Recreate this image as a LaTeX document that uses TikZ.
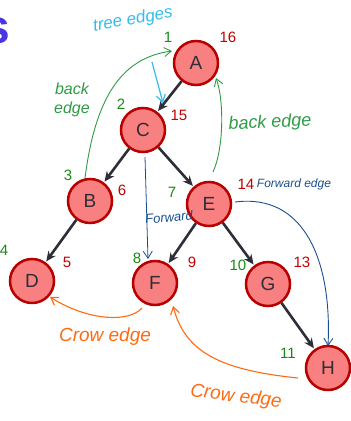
\documentclass[tikz,border=0pt]{standalone}
\usepackage{fontspec}
\setmainfont{Liberation Sans}
\usetikzlibrary{arrows.meta}
\definecolor{nodefill}{HTML}{F88080}
\definecolor{nodeborder}{HTML}{B80000}
\definecolor{treeedge}{HTML}{2E2E38}
\definecolor{dfsgreen}{HTML}{178A17}
\definecolor{dfsred}{HTML}{C40000}
\definecolor{handgreen}{HTML}{2E9B45}
\definecolor{handblue}{HTML}{1A4F8F}
\definecolor{handlight}{HTML}{33BBEE}
\definecolor{handorange}{HTML}{FF6A10}
\definecolor{titleblue}{HTML}{4A36E0}
\tikzset{
  vertex/.style={circle, draw=nodeborder, fill=nodefill, line width=2.5pt,
    minimum size=44pt, inner sep=0pt, font=\fontsize{19}{19}\selectfont, text=treeedge},
  tree/.style={draw=treeedge, line width=2.6pt, -{Stealth[length=10pt,width=9pt]}, shorten >=1pt},
  dnum/.style={text=dfsgreen, font=\fontsize{15}{15}\selectfont, inner sep=0pt},
  fnum/.style={text=dfsred, font=\fontsize{15}{15}\selectfont, inner sep=0pt},
  hand/.style={font=\fontsize{15}{15}\selectfont\itshape, inner sep=0pt},
  handarrow/.style={line width=0.9pt, -{Straight Barb[length=7pt,width=9pt]}},
}
\begin{document}
\begin{tikzpicture}[x=1pt,y=-1pt]
\useasboundingbox (0,0) rectangle (351,421);
% title fragment
\node[anchor=east, inner sep=0pt, text=titleblue, font=\fontsize{48}{48}\selectfont\bfseries] (title) at (10,31) {s};
% vertices
\node[vertex] (A) at (196,63) {A};
\node[vertex] (C) at (143,130) {C};
\node[vertex] (B) at (90,201) {B};
\node[vertex] (E) at (209,204) {E};
\node[vertex] (D) at (32,281) {D};
\node[vertex] (F) at (155,283) {F};
\node[vertex] (G) at (268,284) {G};
\node[vertex] (H) at (328,368) {H};
% tree edges
\draw[tree] (A) -- (C);
\draw[tree] (C) -- (B);
\draw[tree] (C) -- (E);
\draw[tree] (B) -- (D);
\draw[tree] (E) -- (F);
\draw[tree] (E) -- (G);
\draw[tree] (G) -- (H);
% discovery / finish numbers
\node[dnum] (d1) at (168,37) {1};
\node[fnum] (f1) at (228,37) {16};
\node[dnum] (d2) at (121,104) {2};
\node[fnum] (f2) at (179,115) {15};
\node[dnum] (d3) at (68,175) {3};
\node[fnum] (f3) at (122,190) {6};
\node[dnum] (d7) at (172,192) {7};
\node[fnum] (f7) at (246,184) {14};
\node[dnum] (d4) at (4,250) {4};
\node[fnum] (f4) at (67,262) {5};
\node[dnum] (d8) at (137,258) {8};
\node[fnum] (f8) at (192,262) {9};
\node[dnum] (d10) at (238,265) {10};
\node[fnum] (f10) at (302,262) {13};
\node[dnum] (d11) at (288,353) {11};
% handwritten annotations
\node[hand, text=handlight, rotate=10, font=\fontsize{17}{17}\selectfont\itshape] (tlabel) at (133,20) {tree edges};
\coordinate (ts) at (152,62);
\coordinate (te) at (163,103);
\draw[handarrow, draw=handlight, line width=1.2pt] (ts) -- (te);
% back edges
\coordinate (bs) at (85,178);
\coordinate (be) at (172,51);
\draw[handarrow, draw=handgreen] (bs) .. controls (95,100) and (120,58) .. (be);
\node[hand, text=handgreen, align=center, font=\fontsize{16}{19}\selectfont\itshape] (blabel) at (72,100) {back\\edge};
\coordinate (es) at (213,172);
\coordinate (ee) at (216,78);
\draw[handarrow, draw=handgreen] (es) .. controls (224,148) and (224,100) .. (ee);
\node[hand, text=handgreen, rotate=3, font=\fontsize{18}{18}\selectfont\itshape] (elabel) at (270,123) {back edge};
% forward edges
\coordinate (cs) at (145,157);
\coordinate (ce) at (148,259);
\draw[handarrow, draw=handblue, line width=0.8pt] (cs) -- (ce);
\node[hand, text=handblue, rotate=5, font=\fontsize{13}{13}\selectfont\itshape] (flabel) at (169,217) {Forward};
\node[hand, text=handblue, font=\fontsize{12}{12}\selectfont\itshape] (f2label) at (294,184) {Forward edge};
\coordinate (hs) at (235,202);
\coordinate (he) at (328,346);
\draw[handarrow, draw=handblue] (hs) .. controls (305,193) and (332,262) .. (he);
% cross edges
\coordinate (xs) at (142,308);
\coordinate (xe) at (50,297);
\draw[handarrow, draw=handorange, line width=1.1pt] (xs) .. controls (130,322) and (90,322) .. (xe);
\node[hand, text=handorange, font=\fontsize{19}{19}\selectfont\itshape] (xlabel) at (105,337) {Crow edge};
\coordinate (ys) at (298,378);
\coordinate (ye) at (173,306);
\draw[handarrow, draw=handorange, line width=1.1pt] (ys) .. controls (220,370) and (185,352) .. (ye);
\node[hand, text=handorange, rotate=-7, font=\fontsize{19}{19}\selectfont\itshape] (ylabel) at (236,397) {Crow edge};
\end{tikzpicture}
\end{document}
